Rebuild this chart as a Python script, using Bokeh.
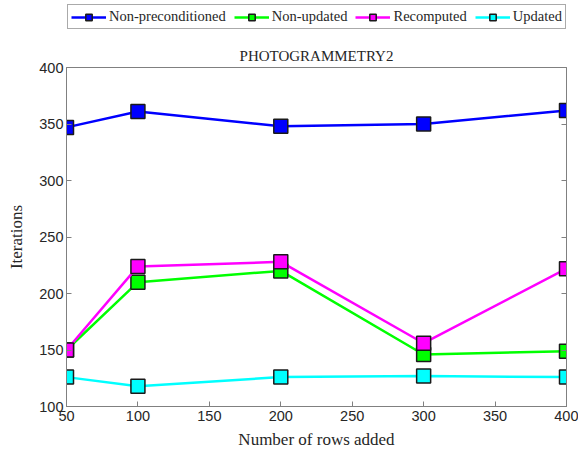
from bokeh.plotting import figure
from bokeh.layouts import column
from bokeh.models import Legend, LegendItem, LinearAxis, FixedTicker, Range1d
from bokeh.embed import file_html
from bokeh.resources import INLINE

rows = [50, 100, 200, 300, 400]
non_precond = [347, 361, 348, 350, 362]
non_updated = [150, 210, 220, 146, 149]
recomputed = [150, 224, 228, 156, 222]
updated = [126, 118, 126, 127, 126]
series_names = ["Non-preconditioned", "Non-updated", "Recomputed", "Updated"]
series_colors = ["#0000FF", "#00FF00", "#FF00FF", "#00FFFF"]
x_ticks = [50, 100, 150, 200, 250, 300, 350, 400]
y_ticks = [100, 150, 200, 250, 300, 350, 400]

SERIF = "Liberation Serif"
SANS = "Liberation Sans"

# legend strip (separate figure so the legend is not clipped by the frame)
lg = figure(width=578, height=30, output_backend="svg", toolbar_location=None,
            x_range=Range1d(1000, 2000), y_range=Range1d(1000, 2000),
            min_border=0, x_axis_location=None, y_axis_location=None)
lg.outline_line_color = None
lg.xgrid.visible = False
lg.ygrid.visible = False

p = figure(width=578, height=422, output_backend="svg", toolbar_location=None,
           x_range=Range1d(50, 400), y_range=Range1d(100, 400),
           title="PHOTOGRAMMETRY2",
           min_border_left=66, min_border_right=12, min_border_bottom=46, min_border_top=37)
p.title.text_font = SERIF
p.title.text_font_size = "15px"
p.title.text_font_style = "normal"
p.title.text_color = "#262626"
p.title.align = "center"
p.title.standoff = 8
p.background_fill_color = "white"
p.border_fill_color = "white"
p.xgrid.visible = False
p.ygrid.visible = False
p.outline_line_color = "#808080"
p.outline_line_width = 1

for ax in (p.xaxis[0], p.yaxis[0]):
    ax.axis_line_color = "#808080"
    ax.major_tick_line_color = "#808080"
    ax.major_tick_in = 5
    ax.major_tick_out = 0
    ax.minor_tick_line_color = None
    ax.major_label_text_font = SANS
    ax.major_label_text_font_size = "14.5px"
    ax.major_label_text_color = "#262626"
    ax.axis_label_text_font = SERIF
    ax.axis_label_text_font_size = "17px"
    ax.axis_label_text_font_style = "normal"
    ax.axis_label_text_color = "#262626"
p.xaxis.ticker = FixedTicker(ticks=x_ticks)
p.yaxis.ticker = FixedTicker(ticks=y_ticks)
p.xaxis.axis_label = "Number of rows added"
p.yaxis.axis_label = "Iterations"
p.xaxis.axis_label_standoff = 6
p.yaxis.axis_label_standoff = 10
p.xaxis.major_label_standoff = 4
p.yaxis.major_label_standoff = 3

rax = LinearAxis(ticker=FixedTicker(ticks=y_ticks),
                 major_label_overrides={v: "" for v in y_ticks},
                 axis_line_color="#808080", major_tick_line_color="#808080",
                 major_tick_in=5, major_tick_out=0, minor_tick_line_color=None,
                 major_label_standoff=0)
p.add_layout(rax, "right")

items = []
for name, color, ys in zip(series_names, series_colors,
                           [non_precond, non_updated, recomputed, updated]):
    p.line(rows, ys, line_color=color, line_width=2.5)
    p.scatter(rows, ys, marker="square", size=14, fill_color=color,
              line_color="#1a1a1a", line_width=1.5)
    ln = lg.line(rows, ys, line_color=color, line_width=2.5)
    sc = lg.scatter(rows, ys, marker="square", size=14, fill_color=color,
                    line_color="#1a1a1a", line_width=1.5)
    items.append(LegendItem(label=name, renderers=[ln, sc]))

legend = Legend(items=items, orientation="horizontal", location=(1, 1),
                label_text_font=SERIF, label_text_font_size="14.5px",
                label_text_color="#262626",
                border_line_color="#555555", border_line_width=1,
                background_fill_color="white", background_fill_alpha=1,
                glyph_width=35, glyph_height=16, label_standoff=3,
                spacing=8, padding=3, margin=0)
lg.add_layout(legend, "center")

layout = column(lg, p, spacing=0)
open("out.html", "w").write(file_html(layout, INLINE))
